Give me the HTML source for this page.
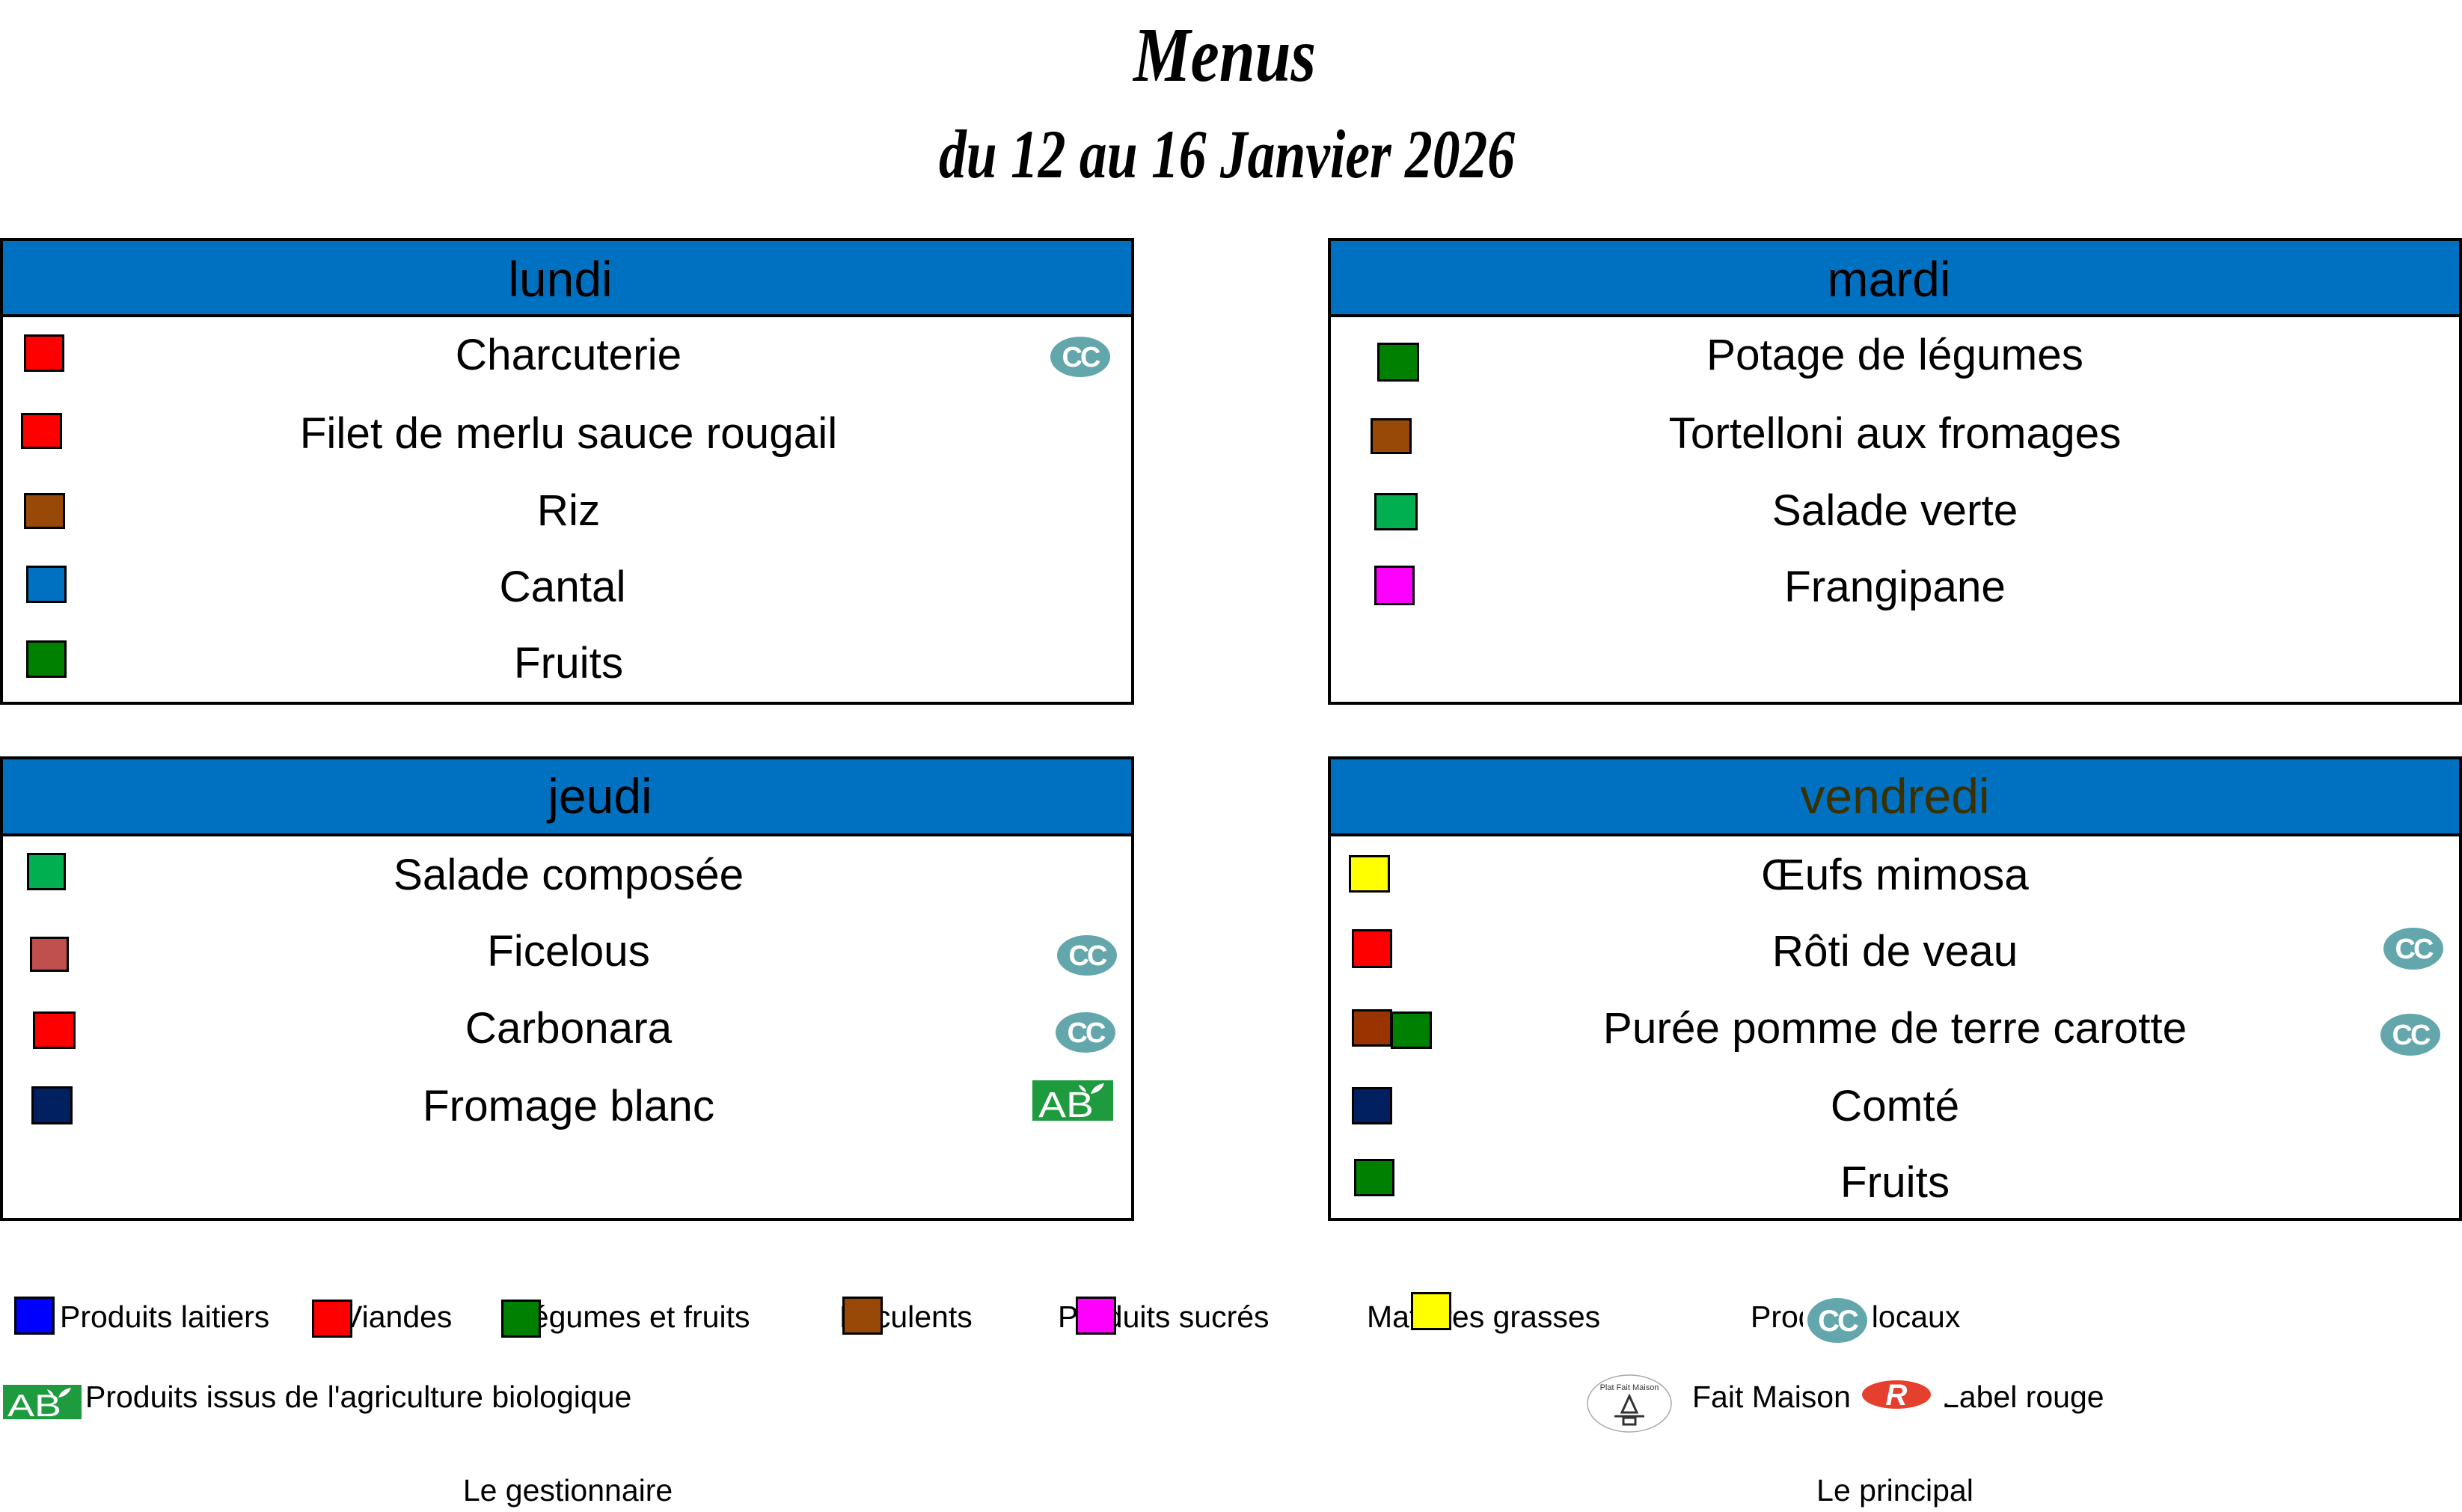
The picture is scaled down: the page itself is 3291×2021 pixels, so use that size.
<!DOCTYPE html>
<html><head><meta charset="utf-8"><style>
html,body{margin:0;padding:0;background:#fff;}
svg{display:block;}
.t{font-family:"Liberation Sans",Arial,sans-serif;}
.it{font-size:58.5px;fill:#000;text-anchor:middle;}
.hd{font-size:66px;text-anchor:middle;}
.lg{font-size:41px;fill:#000;}
.ti{font-family:"Liberation Serif","DejaVu Serif",serif;font-style:italic;font-weight:bold;fill:#000;}
</style></head><body>
<svg width="3291" height="2021" viewBox="0 0 3291 2021" xmlns="http://www.w3.org/2000/svg">
<rect x="0" y="0" width="3291" height="2021" fill="#fff"/>

<!-- Title -->
<text class="ti" x="1515" y="108" font-size="104" textLength="244" lengthAdjust="spacingAndGlyphs">Menus</text>
<text class="ti" x="1255" y="237" font-size="92" textLength="770" lengthAdjust="spacingAndGlyphs">du 12 au 16 Janvier 2026</text>

<!-- Boxes -->
<g>
<rect x="2" y="320" width="1512" height="102" fill="#0070C0"/>
<rect x="2" y="320" width="1512" height="620" fill="none" stroke="#000" stroke-width="4"/>
<line x1="0" y1="422" x2="1516" y2="422" stroke="#000" stroke-width="4"/>

<rect x="1777" y="320" width="1512" height="102" fill="#0070C0"/>
<rect x="1777" y="320" width="1512" height="620" fill="none" stroke="#000" stroke-width="4"/>
<line x1="1775" y1="422" x2="3291" y2="422" stroke="#000" stroke-width="4"/>

<rect x="2" y="1013" width="1512" height="103" fill="#0070C0"/>
<rect x="2" y="1013" width="1512" height="617" fill="none" stroke="#000" stroke-width="4"/>
<line x1="0" y1="1116" x2="1516" y2="1116" stroke="#000" stroke-width="4"/>

<rect x="1777" y="1013" width="1512" height="103" fill="#0070C0"/>
<rect x="1777" y="1013" width="1512" height="617" fill="none" stroke="#000" stroke-width="4"/>
<line x1="1775" y1="1116" x2="3291" y2="1116" stroke="#000" stroke-width="4"/>
</g>

<!-- Headers -->
<text class="t hd" x="749" y="396" fill="#000">lundi</text>
<text class="t hd" x="2525" y="396" fill="#000">mardi</text>
<text class="t hd" x="802" y="1087" fill="#000">jeudi</text>
<text class="t hd" x="2533" y="1087" fill="#3A3000">vendredi</text>

<!-- Items -->
<text class="t it" x="760" y="494">Charcuterie</text>
<text class="t it" x="760" y="599">Filet de merlu sauce rougail</text>
<text class="t it" x="760" y="702">Riz</text>
<text class="t it" x="752" y="804">Cantal</text>
<text class="t it" x="760" y="906">Fruits</text>

<text class="t it" x="2533" y="494">Potage de légumes</text>
<text class="t it" x="2533" y="599">Tortelloni aux fromages</text>
<text class="t it" x="2533" y="702">Salade verte</text>
<text class="t it" x="2533" y="804">Frangipane</text>

<text class="t it" x="760" y="1189">Salade composée</text>
<text class="t it" x="760" y="1291">Ficelous</text>
<text class="t it" x="760" y="1394">Carbonara</text>
<text class="t it" x="760" y="1498">Fromage blanc</text>

<text class="t it" x="2533" y="1189">Œufs mimosa</text>
<text class="t it" x="2533" y="1291">Rôti de veau</text>
<text class="t it" x="2533" y="1394">Purée pomme de terre carotte</text>
<text class="t it" x="2533" y="1498">Comté</text>
<text class="t it" x="2533" y="1600">Fruits</text>

<!-- Squares -->
<g stroke="#000" stroke-width="3">
<rect x="33.5" y="448.5" width="51" height="47" fill="#FF0000"/>
<rect x="29.5" y="553.5" width="52" height="45" fill="#FF0000"/>
<rect x="33.5" y="660.5" width="52" height="45" fill="#984807"/>
<rect x="36.5" y="757.5" width="51" height="47" fill="#0070C0"/>
<rect x="36.5" y="857.5" width="51" height="47" fill="#008000"/>

<rect x="1842.5" y="459.5" width="53" height="49" fill="#008000"/>
<rect x="1833.5" y="560.5" width="52" height="45" fill="#984807"/>
<rect x="1838.5" y="660.5" width="55" height="47" fill="#00B050"/>
<rect x="1838.5" y="757.5" width="51" height="50" fill="#FF00FF"/>

<rect x="37.5" y="1141.5" width="49" height="47" fill="#00B050"/>
<rect x="41.5" y="1253.5" width="49" height="44" fill="#C0504D"/>
<rect x="45.5" y="1353.5" width="54" height="47" fill="#FF0000"/>
<rect x="43.5" y="1453.5" width="52" height="48" fill="#002060"/>

<rect x="1804.5" y="1144.5" width="52" height="47" fill="#FFFF00"/>
<rect x="1808.5" y="1243.5" width="51" height="49" fill="#FF0000"/>
<rect x="1808.5" y="1350.5" width="51" height="47" fill="#993300"/>
<rect x="1860.5" y="1353.5" width="52" height="47" fill="#008000"/>
<rect x="1808.5" y="1454.5" width="51" height="47" fill="#002060"/>
<rect x="1811.5" y="1550.5" width="51" height="47" fill="#008000"/>
</g>

<!-- CC icons -->
<g class="t" font-weight="bold" font-size="38" fill="#fff" text-anchor="middle">
<ellipse cx="1444" cy="477" rx="40" ry="27" fill="#63A7AD"/>
<text x="1444" y="490" letter-spacing="-3">CC</text>
<ellipse cx="1453" cy="1277" rx="40" ry="27" fill="#63A7AD"/>
<text x="1453" y="1290" letter-spacing="-3">CC</text>
<ellipse cx="1451" cy="1380" rx="40" ry="27" fill="#63A7AD"/>
<text x="1451" y="1393" letter-spacing="-3">CC</text>
<ellipse cx="3226" cy="1268" rx="40" ry="28" fill="#63A7AD"/>
<text x="3226" y="1281" letter-spacing="-3">CC</text>
<ellipse cx="3222" cy="1383" rx="40" ry="28" fill="#63A7AD"/>
<text x="3222" y="1396" letter-spacing="-3">CC</text>
</g>

<!-- AB logo in jeudi -->
<rect x="1380" y="1444" width="108" height="54" fill="#1E9B3E"/>
<text x="1388" y="1493" class="t" font-size="48" fill="#fff" textLength="74" lengthAdjust="spacingAndGlyphs">AB</text>
<path d="M1458 1462 q4 -12 18 -14 q-4 12 -18 14z M1452 1460 q-2 -8 -10 -10 q2 8 10 10z" fill="#fff"/>

<!-- Legend row 1 -->
<g class="t lg">
<text x="80" y="1774">Produits laitiers</text>
<text x="457" y="1774">Viandes</text>
<text x="688" y="1774">Légumes et fruits</text>
<text x="1122" y="1774">Féculents</text>
<text x="1414" y="1774">Produits sucrés</text>
<text x="1827" y="1774">Matières grasses</text>
<text x="2340" y="1774">Produits locaux</text>
</g>
<g stroke="#000" stroke-width="3">
<rect x="20.5" y="1734.5" width="51" height="48" fill="#0000FF"/>
<rect x="418.5" y="1738.5" width="51" height="48" fill="#FF0000"/>
<rect x="671.5" y="1738.5" width="50" height="48" fill="#008000"/>
<rect x="1127.5" y="1734.5" width="51" height="48" fill="#984807"/>
<rect x="1439.5" y="1734.5" width="51" height="48" fill="#FF00FF"/>
<rect x="1887.5" y="1728.5" width="51" height="48" fill="#FFFF00"/>
</g>
<rect x="2410" y="1733" width="90" height="64" fill="#fff"/>
<ellipse cx="2456" cy="1765" rx="40" ry="30" fill="#63A7AD"/>
<text x="2456" y="1779" class="t" font-weight="bold" font-size="40" fill="#fff" text-anchor="middle" letter-spacing="-3">CC</text>

<!-- Legend row 2 -->
<rect x="4" y="1851" width="105" height="46" fill="#1E9B3E"/>
<text x="10" y="1893" class="t" font-size="42" fill="#fff" textLength="72" lengthAdjust="spacingAndGlyphs">AB</text>
<path d="M78 1868 q4 -11 17 -13 q-4 11 -17 13z M72 1866 q-2 -7 -9 -9 q2 7 9 9z" fill="#fff"/>
<text x="114" y="1881" class="t lg">Produits issus de l'agriculture biologique</text>

<ellipse cx="2178" cy="1876" rx="56" ry="38" fill="#fff" stroke="#aaa" stroke-width="1.5"/>
<text x="2178" y="1858" class="t" font-size="11" fill="#333" text-anchor="middle">Plat Fait Maison</text>
<path d="M2168 1888 L2178 1866 L2188 1888 Z" fill="none" stroke="#333" stroke-width="3"/>
<line x1="2158" y1="1893" x2="2198" y2="1893" stroke="#333" stroke-width="3"/>
<rect x="2170" y="1895" width="16" height="9" fill="none" stroke="#333" stroke-width="3"/>

<text x="2262" y="1881" class="t lg">Fait Maison</text>
<text x="2596" y="1881" class="t lg">Label rouge</text>
<rect x="2486" y="1840" width="120" height="36" fill="#fff"/>
<ellipse cx="2535" cy="1864" rx="46" ry="19" fill="#E5402E"/>
<text x="2535" y="1878" class="t" font-size="40" font-style="italic" font-weight="bold" fill="#fff" text-anchor="middle">R</text>

<!-- Footer -->
<text x="759" y="2006" class="t lg" text-anchor="middle">Le gestionnaire</text>
<text x="2533" y="2006" class="t lg" text-anchor="middle">Le principal</text>
</svg>
</body></html>
